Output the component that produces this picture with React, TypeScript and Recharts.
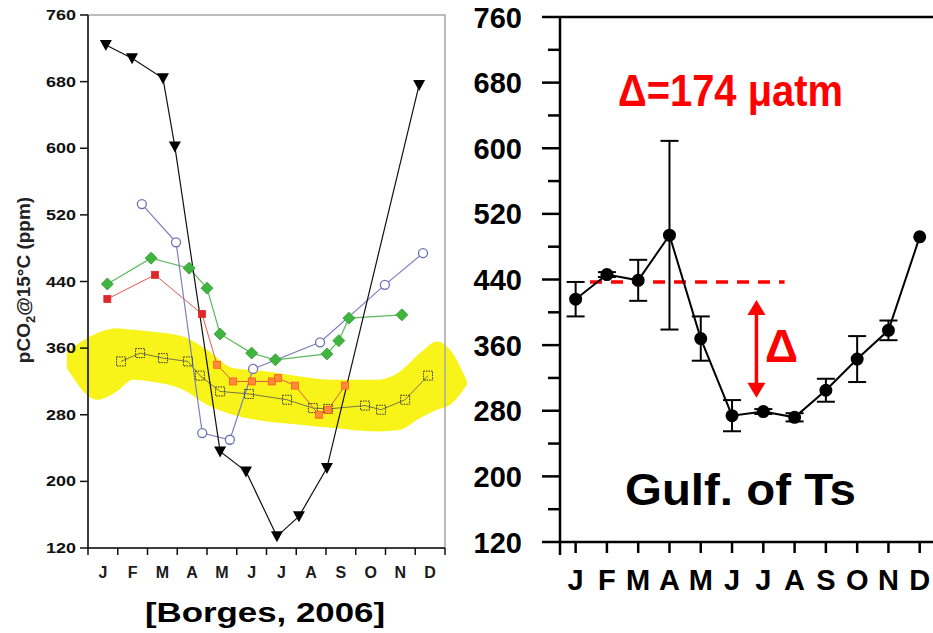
import React from 'react';
import { ComposedChart, Line, Area, XAxis, YAxis, ErrorBar, ReferenceLine, ReferenceArea } from 'recharts';

const FONT = '"Liberation Sans", Arial, sans-serif';

const months = ['J', 'F', 'M', 'A', 'M', 'J', 'J', 'A', 'S', 'O', 'N', 'D'];
const yTicks = [120, 200, 280, 360, 440, 520, 600, 680, 760];
const yTicksMinor = [120, 160, 200, 240, 280, 320, 360, 400, 440, 480, 520, 560, 600, 640, 680, 720, 760];

// left panel, m = position in months (0 = start of January)
const triangleSeries = [
  { m: 0.6, v: 724 }, { m: 1.48, v: 708 }, { m: 2.52, v: 684 }, { m: 2.92, v: 602 },
  { m: 4.44, v: 236 }, { m: 5.31, v: 212 }, { m: 6.35, v: 134 }, { m: 7.09, v: 158 },
  { m: 8.03, v: 216 }, { m: 11.13, v: 676 },
];
const circleSeries = [
  { m: 1.81, v: 533 }, { m: 2.96, v: 487 }, { m: 3.84, v: 258 }, { m: 4.77, v: 250 },
  { m: 5.55, v: 335 }, { m: 7.8, v: 367 }, { m: 9.98, v: 436 }, { m: 11.26, v: 474 },
];
const diamondSeries = [
  { m: 0.65, v: 437 }, { m: 2.12, v: 468 }, { m: 3.4, v: 456 }, { m: 4.0, v: 432 },
  { m: 4.44, v: 377 }, { m: 5.5, v: 354 }, { m: 6.3, v: 346 }, { m: 8.03, v: 353 },
  { m: 8.43, v: 369 }, { m: 8.77, v: 396 }, { m: 10.55, v: 400 },
];
// first three red squares, the rest the orange hatched ones
const squareSeries = [
  { m: 0.65, v: 419 }, { m: 2.25, v: 448 }, { m: 3.83, v: 401 }, { m: 4.34, v: 340 },
  { m: 4.87, v: 320 }, { m: 5.51, v: 320 }, { m: 6.18, v: 320 }, { m: 6.39, v: 324 },
  { m: 6.96, v: 315 }, { m: 7.76, v: 280 }, { m: 8.07, v: 286 }, { m: 8.64, v: 315 },
];
const openSquareSeries = [
  { m: 1.11, v: 344 }, { m: 1.75, v: 354 }, { m: 2.52, v: 348 }, { m: 3.36, v: 344 },
  { m: 3.76, v: 327 }, { m: 4.44, v: 308 }, { m: 5.41, v: 305 }, { m: 6.69, v: 298 },
  { m: 7.56, v: 288 }, { m: 8.07, v: 287 }, { m: 9.31, v: 291 }, { m: 9.85, v: 286 },
  { m: 10.66, v: 298 }, { m: 11.43, v: 327 },
];

// yellow highlight band
const bandM = [-0.71, 0.3, 0.97, 1.51, 2.08, 3.19, 4.0, 4.87, 6.02, 7.13, 8.24, 9.71, 10.49, 11.16, 11.73, 12.17, 12.74];
const bandLow = [336, 298, 308, 322, 320, 310, 292, 280, 272, 268, 264, 260, 262, 276, 286, 292, 316];
const bandHigh = [356, 378, 384, 382, 380, 374, 358, 336, 332, 326, 322, 322, 332, 354, 368, 358, 320];
const bandData = bandM.map((m, i) => ({ m, range: [bandLow[i], bandHigh[i]] }));

// right panel, Gulf of Trieste
const gulfValues = [416, 446, 439, 494, 368, 274, 279, 272, 305, 343, 378, 492];
const gulfErrors = [21, 3, 25, 115, 27, 19, 3, 5, 14, 28, 12, 0];
const gulfData = gulfValues.map((v, i) => ({ i, v, e: gulfErrors[i] }));
const meanLine = { from: 0.46, to: 6.68, v: 437 };
const deltaArrow = { at: 5.78, low: 296, high: 415 };

const TriangleDot = (p: any) => {
  const { cx, cy, index } = p;
  return <polygon key={`t${index}`} points={`${cx - 6},${cy - 5} ${cx + 6},${cy - 5} ${cx},${cy + 6}`} fill="#000" />;
};
const CircleDot = (p: any) => (
  <circle key={`c${p.index}`} cx={p.cx} cy={p.cy} r={4.5} fill="#fff" stroke="#6b72b5" strokeWidth={1.3} />
);
const DiamondDot = (p: any) => {
  const { cx, cy, index } = p;
  return <polygon key={`d${index}`} points={`${cx},${cy - 6} ${cx + 6},${cy} ${cx},${cy + 6} ${cx - 6},${cy}`} fill="#3fb53f" stroke="#2f9a2f" strokeWidth={0.8} />;
};
const SquareDot = (p: any) => {
  const { cx, cy, index } = p;
  const red = index < 3;
  return <rect key={`s${index}`} x={cx - 3.5} y={cy - 3.5} width={7} height={7} fill={red ? '#e02828' : '#ff8a3a'} stroke={red ? '#e02828' : '#ff5a1a'} strokeWidth={0.8} />;
};
const OpenSquareDot = (p: any) => (
  <rect key={`o${p.index}`} x={p.cx - 4.5} y={p.cy - 4.5} width={9} height={9} fill="none" stroke="#333" strokeWidth={1} strokeDasharray="1.5 1" />
);

const LeftYTick = ({ x, y, payload }: any) => (
  <g>
    <line x1={x - 8} y1={y} x2={x} y2={y} stroke="#111" strokeWidth={1.5} />
    <text x={x - 12} y={y + 5} textAnchor="end" fontSize={14.5} fontWeight="bold" fill="#111" fontFamily={FONT}
      textLength={30} lengthAdjust="spacingAndGlyphs">{payload.value}</text>
  </g>
);
const LeftXTick = ({ x, y, payload }: any) => {
  const v = payload.value;
  if (Number.isInteger(v)) return <line x1={x} y1={y} x2={x} y2={y + 7} stroke="#111" strokeWidth={1.5} />;
  return <text x={x} y={y + 30} textAnchor="middle" fontSize={16} fontWeight="bold" fill="#1a1a1a" fontFamily={FONT}>{months[Math.floor(v)]}</text>;
};

const RightYTick = ({ x, y, payload }: any) => {
  const major = yTicks.includes(payload.value);
  return (
    <g>
      <line x1={x - (major ? 18 : 12)} y1={y} x2={x} y2={y} stroke="#000" strokeWidth={2.5} />
      {major && (
        <text x={x - 38} y={y + 10.5} textAnchor="end" fontSize={29} fontWeight="bold" fill="#000" fontFamily={FONT}>{payload.value}</text>
      )}
    </g>
  );
};
const RightXTick = ({ x, y, payload }: any) => {
  const v = payload.value;
  return (
    <g>
      <line x1={x} y1={y} x2={x} y2={y + (v < 0 ? 13 : 11)} stroke="#000" strokeWidth={2.5} />
      {v >= 0 && (
        <text x={x} y={y + 48} textAnchor="middle" fontSize={29} fontWeight="bold" fill="#000" fontFamily={FONT}>{months[v]}</text>
      )}
    </g>
  );
};

const DoubleArrow = (p: any) => {
  const { x1, y1, x2, y2 } = p;
  const top = Math.min(y1, y2);
  const bot = Math.max(y1, y2);
  return (
    <g>
      <line x1={x1} y1={top + 12} x2={x2} y2={bot - 12} stroke="#ff0000" strokeWidth={3.5} />
      <polygon points={`${x1 - 9},${top + 15} ${x1 + 9},${top + 15} ${x1},${top}`} fill="#ff0000" />
      <polygon points={`${x1 - 9},${bot - 15} ${x1 + 9},${bot - 15} ${x1},${bot}`} fill="#ff0000" />
    </g>
  );
};

const leftTicksX = Array.from({ length: 25 }, (_, k) => k / 2);
const rightTicksX = [-0.5, 0, 1, 2, 3, 4, 5, 6, 7, 8, 9, 10, 11];

export default function App() {
  return (
    <div style={{ position: 'absolute', left: 0, top: 0, width: 933, height: 633, overflow: 'hidden', background: '#fff', fontFamily: FONT }}>
      {/* yellow band, drawn on its own wider chart so it can run past the axes */}
      <div style={{ position: 'absolute', left: 0, top: 0 }}>
        <ComposedChart width={470} height={633} data={bandData} margin={{ top: 15, right: 0, bottom: 85, left: 60 }}>
          <XAxis dataKey="m" type="number" domain={[-0.9412, 12.8403]} hide />
          <YAxis type="number" domain={[120, 760]} hide />
          <Area dataKey="range" type="monotone" fill="#f8f41a" fillOpacity={1} stroke="none" isAnimationActive={false} />
        </ComposedChart>
      </div>

      <div style={{ position: 'absolute', left: 0, top: 0 }}>
        <ComposedChart width={470} height={633} margin={{ top: 15, right: 25, bottom: 45, left: 0 }}>
          <XAxis dataKey="m" type="number" domain={[0, 12]} ticks={leftTicksX} interval={0} height={40}
            tick={<LeftXTick />} tickLine={false} tickSize={0} tickMargin={0}
            axisLine={{ stroke: '#111', strokeWidth: 1.5 }} />
          <YAxis type="number" domain={[120, 760]} ticks={yTicks} interval={0} width={88}
            tick={<LeftYTick />} tickLine={false} tickSize={0} tickMargin={0}
            axisLine={{ stroke: '#111', strokeWidth: 1.5 }} />
          <ReferenceArea x1={0} x2={12} y1={120} y2={760} fill="none" stroke="#a8a8a8" strokeWidth={1.5} />
          <Line data={openSquareSeries} dataKey="v" stroke="#555" strokeWidth={0.8} dot={OpenSquareDot} isAnimationActive={false} />
          <Line data={squareSeries} dataKey="v" stroke="#e8564a" strokeWidth={1} dot={SquareDot} isAnimationActive={false} />
          <Line data={diamondSeries} dataKey="v" stroke="#5cb85c" strokeWidth={1.2} dot={DiamondDot} isAnimationActive={false} />
          <Line data={circleSeries} dataKey="v" stroke="#7a80bf" strokeWidth={1.2} dot={CircleDot} isAnimationActive={false} />
          <Line data={triangleSeries} dataKey="v" stroke="#111" strokeWidth={1.2} dot={TriangleDot} isAnimationActive={false} />
        </ComposedChart>
      </div>

      <div style={{ position: 'absolute', left: 440, top: 0 }}>
        <ComposedChart width={530} height={633} data={gulfData} margin={{ top: 17, right: 19, bottom: 41, left: 0 }}>
          <XAxis dataKey="i" type="number" domain={[-0.5, 12]} ticks={rightTicksX} interval={0} height={50}
            tick={<RightXTick />} tickLine={false} tickSize={0} tickMargin={0}
            axisLine={{ stroke: '#000', strokeWidth: 2.5 }} />
          <YAxis type="number" domain={[120, 760]} ticks={yTicksMinor} interval={0} width={120}
            tick={<RightYTick />} tickLine={false} tickSize={0} tickMargin={0}
            axisLine={{ stroke: '#000', strokeWidth: 2.5 }} />
          <ReferenceLine y={760} stroke="#000" strokeWidth={2.5} />
          <ReferenceLine segment={[{ x: meanLine.from, y: meanLine.v }, { x: meanLine.to, y: meanLine.v }]}
            stroke="#ff0000" strokeWidth={3.5} strokeDasharray="12 9" />
          <ReferenceLine segment={[{ x: deltaArrow.at, y: deltaArrow.high }, { x: deltaArrow.at, y: deltaArrow.low }]}
            shape={DoubleArrow} />
          <Line dataKey="v" stroke="#000" strokeWidth={2} dot={{ r: 5.5, fill: '#000', stroke: '#000' }} isAnimationActive={false}>
            <ErrorBar dataKey="e" width={9} strokeWidth={2} stroke="#000" direction="y" />
          </Line>
        </ComposedChart>
      </div>

      <svg width={933} height={633} style={{ position: 'absolute', left: 0, top: 0, pointerEvents: 'none' }} fontFamily={FONT}>
        <text transform="translate(30,280) rotate(-90)" textAnchor="middle" fontSize={19} fontWeight="bold" fill="#222">
          pCO<tspan dy={5} fontSize={13}>2</tspan><tspan dy={-5}>@15°C (ppm)</tspan>
        </text>
        <text x={265} y={622} textAnchor="middle" fontSize={28} fontWeight="bold" fill="#000" textLength={240} lengthAdjust="spacingAndGlyphs">[Borges, 2006]</text>
        <text x={618} y={106} fontSize={45} fontWeight="bold" fill="#ff0000" textLength={225} lengthAdjust="spacingAndGlyphs">Δ=174 μatm</text>
        <text x={765} y={362} fontSize={46} fontWeight="bold" fill="#ff0000">Δ</text>
        <text x={625} y={505} fontSize={45} fontWeight="bold" fill="#000" textLength={231} lengthAdjust="spacingAndGlyphs">Gulf. of Ts</text>
      </svg>
    </div>
  );
}
